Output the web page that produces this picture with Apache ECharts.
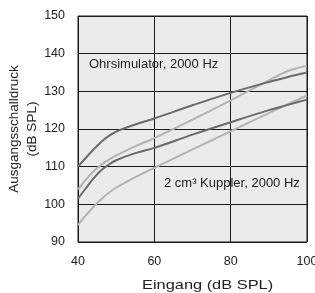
<!DOCTYPE html>
<html>
<head>
<meta charset="utf-8">
<script src="https://cdn.jsdelivr.net/npm/echarts@6/dist/echarts.min.js"></script>
<style>
  html, body { margin: 0; padding: 0; background: #fff; }
  #chart { width: 315px; height: 293px; }
</style>
</head>
<body>
<div id="chart"></div>
<script>
// Eingangspegel (dB SPL)
var eingang = [40, 42, 44, 46, 48, 50, 55, 60, 70, 80, 90, 95, 100];
// Ohrsimulator, 2000 Hz
var ohrDunkel = [110, 112.3, 114.5, 116.5, 118.1, 119.3, 121.2, 122.8, 126.3, 129.6, 132.5, 133.8, 135];
var ohrHell   = [104, 106.5, 108.7, 110.4, 111.8, 113, 115.4, 117.6, 122.5, 127.6, 132.9, 135.4, 136.8];
// 2 cm³ Kuppler, 2000 Hz
var kupDunkel = [101.5, 104.2, 106.8, 109, 110.5, 111.7, 113.6, 115, 118.5, 121.8, 125, 126.4, 127.8];
var kupHell   = [94.5, 97, 99.3, 101.3, 103, 104.4, 107.2, 109.7, 114.6, 119.4, 124.2, 126.6, 128.9];

var xTicks = [40, 60, 80, 100];
var yTicks = [90, 100, 110, 120, 130, 140, 150];

var FONT = '"Liberation Sans", Arial, sans-serif';
var DARK = '#6b6b6b';
var LIGHT = '#b3b3b3';

function pairs(vals) {
  return eingang.map(function (x, i) { return [x, vals[i]]; });
}

function line(vals, color) {
  return {
    type: 'line',
    data: pairs(vals),
    smooth: 0.35,
    showSymbol: false,
    lineStyle: { color: color, width: 2 },
    z: 3
  };
}

var chart = echarts.init(document.getElementById('chart'));
chart.setOption({
  animation: false,
  backgroundColor: '#fff',
  textStyle: { fontFamily: FONT },
  grid: {
    left: 78, right: 8, top: 16, bottom: 51,
    outerBoundsMode: 'none',
    containLabel: false,
    show: true,
    backgroundColor: '#ebebeb',
    borderColor: '#1a1a1a',
    borderWidth: 1
  },
  xAxis: {
    type: 'value',
    min: xTicks[0], max: xTicks[xTicks.length - 1], interval: 20,
    axisLine: { show: false },
    axisTick: { show: false },
    axisLabel: { fontSize: 12.5, color: '#222', margin: 13, fontFamily: FONT },
    splitLine: { show: true, lineStyle: { color: '#1a1a1a', width: 1 } }
  },
  yAxis: {
    type: 'value',
    min: yTicks[0], max: yTicks[yTicks.length - 1], interval: 10,
    name: 'Ausgangsschalldruck\n(dB SPL)',
    nameLocation: 'middle',
    nameGap: 37,
    nameMoveOverlap: false,
    nameTextStyle: { fontSize: 13.5, color: '#222', lineHeight: 18, fontFamily: FONT },
    axisLine: { show: false },
    axisTick: { show: false },
    axisLabel: { fontSize: 12.5, color: '#222', margin: 13, fontFamily: FONT },
    splitLine: { show: true, lineStyle: { color: '#1a1a1a', width: 1 } }
  },
  graphic: [
    {
      type: 'text', x: 142, y: 278.5, scaleX: 1.26, z: 10,
      style: { text: 'Eingang (dB SPL)', font: '13px ' + FONT, fill: '#222' }
    },
    {
      type: 'text', left: 89, top: 58, z: 10,
      style: { text: 'Ohrsimulator, 2000 Hz', font: '13px ' + FONT, fill: '#222' }
    },
    {
      type: 'text', left: 164, top: 177, z: 10,
      style: { text: '2 cm³ Kuppler, 2000 Hz', font: '13px ' + FONT, fill: '#222' }
    }
  ],
  series: [
    line(kupHell, LIGHT),
    line(ohrHell, LIGHT),
    line(kupDunkel, DARK),
    line(ohrDunkel, DARK)
  ]
});
</script>
</body>
</html>
